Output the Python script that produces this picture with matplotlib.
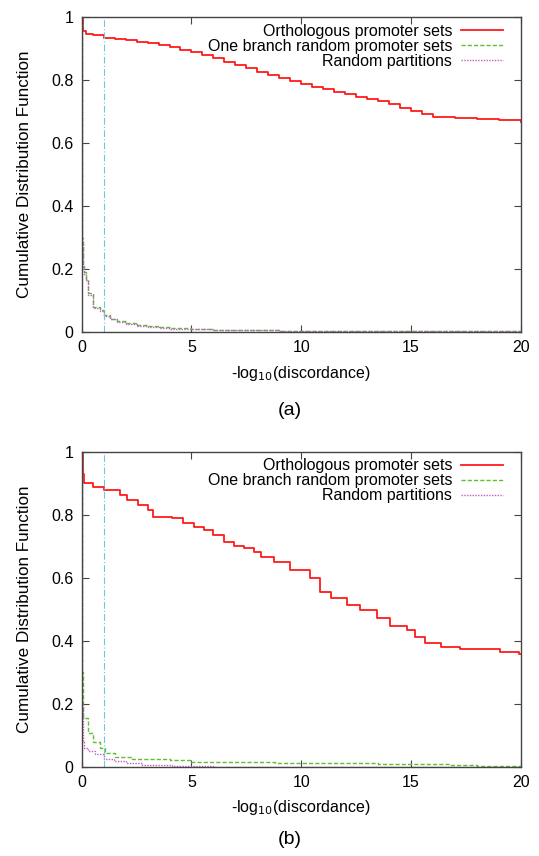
import matplotlib
matplotlib.use('Agg')
import matplotlib.pyplot as plt
from matplotlib.ticker import FuncFormatter

plt.rcParams['font.family'] = ['Liberation Sans', 'DejaVu Sans']

# Panel (a) curves: x breakpoints and 1 - CDF values (step functions)
a_orth_x = [0, 0.08, 0.2, 0.5, 1, 1.5, 2, 2.5, 3, 3.5, 4, 4.5, 5, 5.5, 6, 6.5, 7, 7.5, 8,
            8.5, 9, 9.5, 10, 10.5, 11, 11.5, 12, 12.5, 13, 13.5, 14, 14.5, 15, 15.5, 16,
            17, 18, 19, 20]
a_orth_y = [1.0, 0.955, 0.948, 0.942, 0.935, 0.931, 0.927, 0.922, 0.917, 0.911, 0.905,
            0.897, 0.888, 0.879, 0.869, 0.859, 0.849, 0.840, 0.826, 0.817, 0.806, 0.796,
            0.788, 0.779, 0.771, 0.763, 0.756, 0.748, 0.741, 0.733, 0.723, 0.712, 0.702,
            0.692, 0.682, 0.679, 0.676, 0.672, 0.666]

a_branch_x = [0, 0.01, 0.03, 0.06, 0.12, 0.2, 0.27, 0.5, 0.85, 1.0, 1.3, 1.6, 2.0, 2.5,
              3.0, 3.5, 4.0, 5.0, 6.0, 7.5, 9.0, 11.0, 13.0, 15.0, 17.5, 20.0]
a_branch_y = [1.0, 0.6, 0.3, 0.21, 0.19, 0.17, 0.123, 0.080, 0.070, 0.054, 0.043, 0.035,
              0.028, 0.022, 0.018, 0.015, 0.012, 0.0095, 0.008, 0.006, 0.005, 0.004,
              0.0035, 0.003, 0.0025, 0.002]

a_part_x = [0, 0.01, 0.03, 0.06, 0.12, 0.2, 0.27, 0.5, 0.85, 1.0, 1.3, 1.6, 2.0, 2.5,
            3.0, 3.5, 4.0, 5.0, 6.0, 7.5, 9.0, 11.0, 13.0, 15.0, 17.5, 20.0]
a_part_y = [1.0, 0.55, 0.28, 0.20, 0.185, 0.165, 0.118, 0.076, 0.066, 0.051, 0.041, 0.033,
            0.026, 0.021, 0.017, 0.014, 0.011, 0.009, 0.007, 0.0055, 0.0045, 0.0035,
            0.003, 0.0025, 0.002, 0.0015]

# Panel (b) curves
b_orth_x = [0, 0.05, 0.1, 0.5, 1.0, 1.75, 2.05, 2.55, 3.0, 3.25, 4.1, 4.6, 5.1, 5.55, 6.0,
            6.5, 6.95, 7.4, 7.85, 8.15, 8.75, 9.5, 10.4, 10.85, 11.35, 12.1, 12.7, 13.45,
            14.05, 14.8, 15.2, 15.65, 16.35, 17.25, 19.05, 19.9, 20]
b_orth_y = [1.0, 0.93, 0.90, 0.887, 0.878, 0.862, 0.847, 0.831, 0.815, 0.794, 0.79, 0.773,
            0.761, 0.752, 0.736, 0.714, 0.70, 0.694, 0.683, 0.667, 0.651, 0.624, 0.599,
            0.556, 0.535, 0.513, 0.497, 0.471, 0.446, 0.434, 0.413, 0.392, 0.381, 0.373,
            0.364, 0.358, 0.358]

b_branch_x = [0, 0.01, 0.03, 0.06, 0.27, 0.53, 0.84, 1.06, 1.5, 2.3, 4.0, 5.0, 8.8, 9.7,
              13.5, 16.8, 18.0, 20]
b_branch_y = [1.0, 0.6, 0.3, 0.155, 0.106, 0.079, 0.058, 0.042, 0.032, 0.024, 0.021,
              0.016, 0.013, 0.011, 0.0076, 0.005, 0.002, 0.002]

b_part_x = [0, 0.01, 0.03, 0.05, 0.12, 0.3, 0.6, 1.0, 1.45, 2.0, 2.75, 4.1, 6.0, 20]
b_part_y = [1.0, 0.5, 0.2, 0.08, 0.06, 0.05, 0.04, 0.026, 0.018, 0.012, 0.005, 0.002,
            0.0, 0.0]

threshold = 1.0
labels = ['Orthologous promoter sets', 'One branch random promoter sets',
          'Random partitions']
panel_names = ['(a)', '(b)']


def draw_panel(ax, orth, branch, part):
    ax.plot(orth[0], orth[1], drawstyle='steps-post', color='#ff1a1a', lw=1.3,
            label=labels[0])
    ax.plot(branch[0], branch[1], drawstyle='steps-post', color='#5fbf2f', lw=1.0,
            ls=(0, (3, 1.5)), label=labels[1])
    ax.plot(part[0], part[1], drawstyle='steps-post', color='#c45cc4', lw=1.0,
            ls=(0, (1, 1)), label=labels[2])
    ax.axvline(threshold, color='#6cc8dc', lw=0.8, ls=(0, (6, 2, 1, 2)))

    ax.set_xlim(0, 20)
    ax.set_ylim(0, 1)
    ax.set_xticks([0, 5, 10, 15, 20])
    ax.set_yticks([0, 0.2, 0.4, 0.6, 0.8, 1])
    ax.yaxis.set_major_formatter(FuncFormatter(lambda v, p: '%g' % v))
    ax.tick_params(direction='in', top=True, right=True, length=5, width=0.8,
                   color='#444444', labelsize=11.5, pad=6)
    for s in ax.spines.values():
        s.set_color('#444444')
        s.set_linewidth(1.0)

    ax.set_xlabel('-log$_{10}$(discordance)', fontsize=11.5, labelpad=6)
    ax.set_ylabel('Cumulative Distribution Function', fontsize=12.3, labelpad=14)
    ax.legend(loc='upper right', frameon=False, markerfirst=False, fontsize=11.5,
              handlelength=2.6, handletextpad=0.55, labelspacing=0.0,
              borderaxespad=0.3, bbox_to_anchor=(0.984, 1.015))


def main():
    fig = plt.figure(figsize=(5.39, 8.56), dpi=100)
    ax_a = fig.add_axes([0.1516, 0.612, 0.8145, 0.368])
    ax_b = fig.add_axes([0.1516, 0.1043, 0.8145, 0.368])

    draw_panel(ax_a, (a_orth_x, a_orth_y), (a_branch_x, a_branch_y),
               (a_part_x, a_part_y))
    draw_panel(ax_b, (b_orth_x, b_orth_y), (b_branch_x, b_branch_y),
               (b_part_x, b_part_y))

    # panel captions under each chart
    fig.text(0.538, 1 - 410 / 856, panel_names[0], ha='center', va='center', fontsize=14)
    fig.text(0.538, 1 - 840 / 856, panel_names[1], ha='center', va='center', fontsize=14)

    fig.savefig('out.png', dpi=100)
    plt.close(fig)


if __name__ == "__main__":
    main()
